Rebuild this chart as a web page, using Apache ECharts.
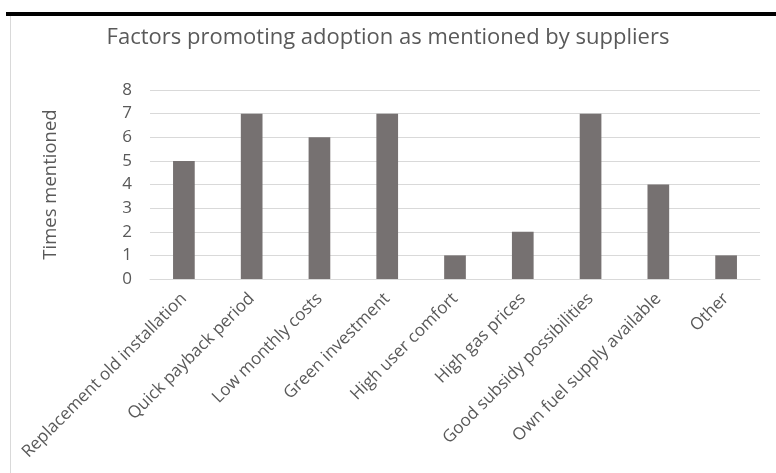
<!DOCTYPE html>
<html>
<head>
<meta charset="utf-8">
<script src="https://cdn.jsdelivr.net/npm/echarts@6/dist/echarts.min.js"></script>
<style>
  html, body { margin: 0; padding: 0; background: #fff; }
  #chart { width: 776px; height: 473px; }
</style>
</head>
<body>
<div id="chart"></div>
<script>
const categories = [
  'Replacement old installation', 'Quick payback period', 'Low monthly costs',
  'Green investment', 'High user comfort', 'High gas prices',
  'Good subsidy possibilities', 'Own fuel supply available', 'Other'
];
const timesMentioned = [5, 7, 6, 7, 1, 2, 7, 4, 1];
const yTicks = [0, 1, 2, 3, 4, 5, 6, 7, 8];

const font = '"Open Sans", sans-serif';
const textColor = '#595959';

let chart = echarts.init(document.getElementById('chart'), null, { renderer: 'canvas' });

chart.setOption({
  backgroundColor: '#fff',
  animation: false,
  title: {
    text: 'Factors promoting adoption as mentioned by suppliers',
    left: 'center',
    top: 22,
    textStyle: { fontFamily: font, fontSize: 22, fontWeight: 'normal', color: textColor }
  },
  grid: { left: 150, right: 16, top: 90, bottom: 194 },
  xAxis: {
    type: 'category',
    data: categories,
    axisTick: { show: false },
    axisLine: { lineStyle: { color: '#d9d9d9', width: 1 } },
    axisLabel: {
      rotate: 45, interval: 0, margin: 17,
      fontFamily: font, fontSize: 17, color: textColor
    }
  },
  yAxis: {
    type: 'value',
    min: yTicks[0],
    max: yTicks[yTicks.length - 1],
    interval: 1,
    name: 'Times mentioned',
    nameLocation: 'middle',
    nameGap: 90,
    nameTextStyle: { fontFamily: font, fontSize: 18.5, color: textColor },
    axisLine: { show: false },
    axisTick: { show: false },
    splitLine: { lineStyle: { color: '#d9d9d9', width: 1 } },
    axisLabel: { margin: 18, fontFamily: font, fontSize: 17, color: textColor }
  },
  series: [{
    type: 'bar',
    data: timesMentioned,
    barWidth: '32%',
    itemStyle: { color: '#767171' }
  }],
  graphic: [
    // frame of the original screenshot
    { type: 'rect', shape: { x: 6, y: 12, width: 770, height: 4 }, style: { fill: '#000' } },
    { type: 'rect', shape: { x: 10, y: 16, width: 1, height: 457 }, style: { fill: '#d9d9d9' } }
  ]
});
</script>
</body>
</html>
